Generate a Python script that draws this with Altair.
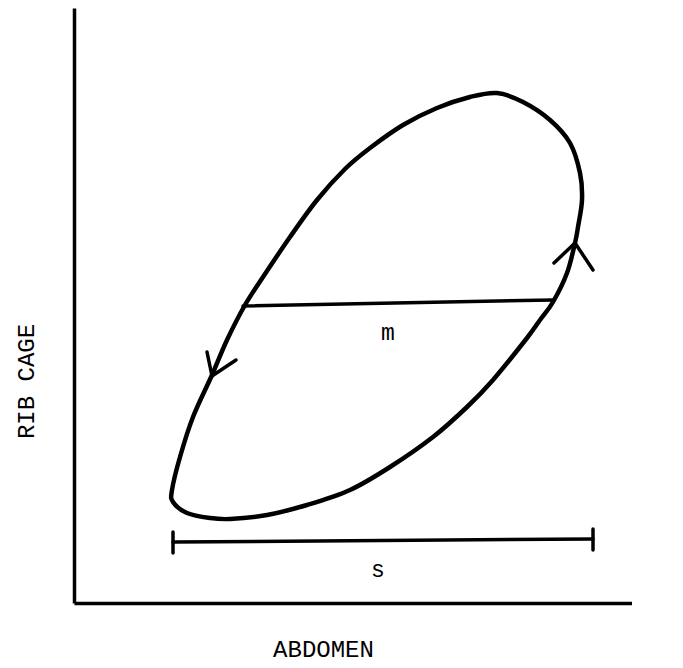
import altair as alt
import pandas as pd

# Loop (abdomen vs rib cage), traced in drawing order
loop_abdomen = [156, 193, 233, 276, 316, 359, 393, 419, 453, 466, 479, 493, 501, 504, 508,
                506, 496, 476, 449, 423, 396, 363, 329, 296, 271, 243, 216, 189, 171, 153,
                138, 119, 106, 98, 99, 113, 136]
loop_ribcage = [84, 88, 98, 113, 136, 166, 196, 223, 265, 283, 301, 330, 360, 376, 403,
                430, 460, 483, 501, 510, 506, 495, 478, 455, 434, 403, 366, 326, 298, 263,
                228, 186, 146, 113, 101, 90, 85]

# horizontal bar "m"
m_abdomen = [169, 479]
m_ribcage = [297, 303]

# span bar "s" and its end ticks
s_abdomen = [99, 519]
s_ribcage = [61, 64]
s_tick_top = [71, 74]
s_tick_bottom = [50, 53]

# arrow heads: tip and two barbs
arrow_tip_abdomen = [501, 138]
arrow_tip_ribcage = [360, 227]
arrow_barb1_abdomen = [480, 133]
arrow_barb1_ribcage = [340, 251]
arrow_barb2_abdomen = [519, 162]
arrow_barb2_ribcage = [333, 243]

label_text = ["m", "s"]
label_abdomen = [314, 304]
label_ribcage = [270, 33]

FONT = "Courier, 'Courier New', 'Nimbus Mono PS', 'Nimbus Mono L', FreeMono, 'Liberation Mono', monospace"

loop_df = pd.DataFrame({"a": loop_abdomen, "r": loop_ribcage,
                        "o": list(range(len(loop_abdomen)))})

segs = []
segs.append({"a": m_abdomen[0], "r": m_ribcage[0], "a2": m_abdomen[1], "r2": m_ribcage[1]})
segs.append({"a": s_abdomen[0], "r": s_ribcage[0], "a2": s_abdomen[1], "r2": s_ribcage[1]})
for i in range(2):
    segs.append({"a": s_abdomen[i], "r": s_tick_bottom[i], "a2": s_abdomen[i], "r2": s_tick_top[i]})
for i in range(2):
    segs.append({"a": arrow_tip_abdomen[i], "r": arrow_tip_ribcage[i],
                 "a2": arrow_barb1_abdomen[i], "r2": arrow_barb1_ribcage[i]})
    segs.append({"a": arrow_tip_abdomen[i], "r": arrow_tip_ribcage[i],
                 "a2": arrow_barb2_abdomen[i], "r2": arrow_barb2_ribcage[i]})
seg_df = pd.DataFrame(segs)

lab_df = pd.DataFrame({"t": label_text, "a": label_abdomen, "r": label_ribcage})

xs = alt.Scale(domain=[0, 558], nice=False, zero=False)
ys = alt.Scale(domain=[0, 595], nice=False, zero=False)

x_axis = alt.Axis(title="ABDOMEN", ticks=False, labels=False, grid=False,
                  domainColor="black", domainWidth=3.5,
                  titleFont=FONT, titleFontSize=24, titleFontWeight="normal",
                  titleColor="black", titleX=249, titleY=53,
                  titleBaseline="alphabetic", titleAlign="center")
y_axis = alt.Axis(title="RIB CAGE", ticks=False, labels=False, grid=False,
                  domainColor="black", domainWidth=3.5,
                  titleFont=FONT, titleFontSize=24, titleFontWeight="normal",
                  titleColor="black", titleX=-41, titleY=373, titleAngle=270,
                  titleBaseline="alphabetic", titleAlign="center")

def X():
    return alt.X("a:Q", scale=xs, axis=x_axis)

def Y():
    return alt.Y("r:Q", scale=ys, axis=y_axis)

loop = alt.Chart(loop_df).mark_line(
    color="black", strokeWidth=4.5, interpolate="cardinal-closed"
).encode(x=X(), y=Y(), order="o:Q")

rules = alt.Chart(seg_df).mark_rule(
    color="black", strokeWidth=3.5, strokeCap="round"
).encode(x=X(), y=Y(), x2="a2:Q", y2="r2:Q")

labels = alt.Chart(lab_df).mark_text(
    font=FONT, fontSize=23, color="black"
).encode(x=X(), y=Y(), text="t:N")

chart = alt.layer(loop, rules, labels).properties(
    width=558, height=595,
    autosize=alt.AutoSizeParams(type="none"),
    padding={"left": 66, "top": 0, "right": 0, "bottom": 62},
    background="white",
).configure_view(stroke=None)

chart.save("out.html", embed_options={"renderer": "svg", "actions": False})
